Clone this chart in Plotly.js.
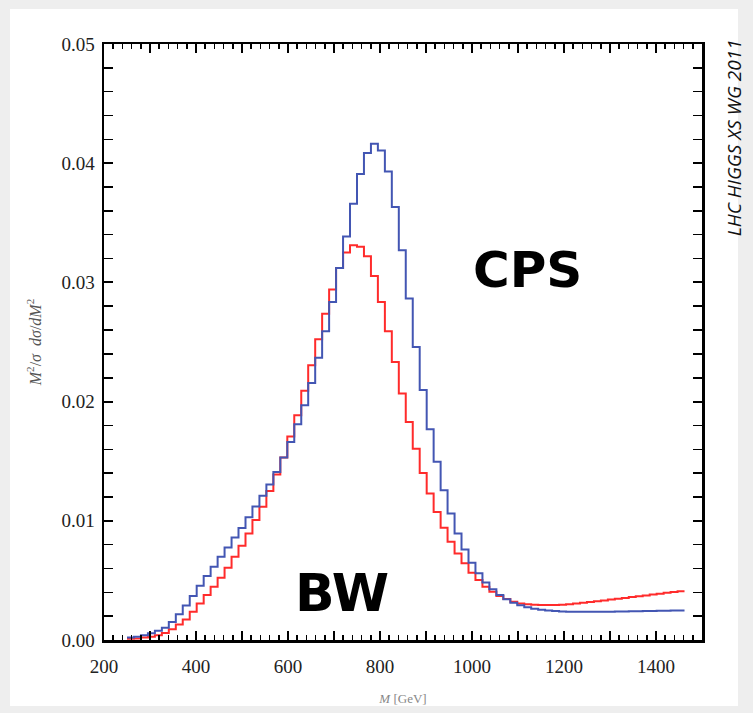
<!DOCTYPE html>
<html>
<head>
<meta charset="utf-8">
<script src="https://cdn.plot.ly/plotly-3.0.1.min.js"></script>
<style>
  html, body { margin:0; padding:0; background:#eeeeee; }
  #panel { position:absolute; left:10px; top:9px; width:728px; height:697px; background:#ffffff; }
  #chart { position:absolute; left:0; top:0; width:753px; height:713px; }
</style>
</head>
<body>
<div id="panel"></div>
<div id="chart"></div>
<script>
// Bin edges in M [GeV] (80 bins)
const binEdges = [250.0, 265.2, 280.3, 295.5, 310.6, 325.8, 340.9, 356.1, 371.2, 386.4,
  401.5, 416.7, 431.8, 447.0, 462.1, 477.3, 492.4, 507.6, 522.7, 537.9,
  553.0, 568.2, 583.3, 598.5, 613.6, 628.8, 643.9, 659.1, 674.2, 689.4,
  704.5, 719.7, 734.8, 750.0, 765.1, 780.3, 795.4, 810.6, 825.7, 840.9,
  856.0, 871.2, 886.3, 901.5, 916.6, 931.8, 946.9, 962.1, 977.2, 992.4,
  1007.5, 1022.7, 1037.8, 1053.0, 1068.1, 1083.3, 1098.4, 1113.6, 1128.7, 1143.9,
  1159.0, 1174.2, 1189.3, 1204.5, 1219.6, 1234.8, 1249.9, 1265.1, 1280.2, 1295.4,
  1310.5, 1325.7, 1340.8, 1356.0, 1371.1, 1386.3, 1401.4, 1416.6, 1431.7, 1446.9,
  1462.0];

// CPS (blue) bin contents
const cpsValues = [0.0002, 0.00028, 0.0004, 0.00056, 0.00078, 0.00103, 0.0015, 0.00215, 0.0029, 0.0037,
  0.00455, 0.00536, 0.00615, 0.00698, 0.00777, 0.0086, 0.0094, 0.0103, 0.0112, 0.0121,
  0.01305, 0.0141, 0.0153, 0.01662, 0.0181, 0.0197, 0.02157, 0.02367, 0.0259, 0.02836,
  0.0312, 0.03386, 0.0366, 0.03909, 0.04085, 0.04163, 0.04107, 0.03931, 0.03632, 0.03269,
  0.02864, 0.02459, 0.02098, 0.01769, 0.01495, 0.01257, 0.01062, 0.00894, 0.0076, 0.00648,
  0.00559, 0.00483, 0.00425, 0.00377, 0.00341, 0.00313, 0.00291, 0.00274, 0.00262, 0.00254,
  0.00247, 0.00243, 0.0024, 0.00238, 0.00237, 0.00236, 0.00236, 0.00236, 0.00237, 0.00238,
  0.00239, 0.0024, 0.00241, 0.00242, 0.00243, 0.00244, 0.00245, 0.00246, 0.00247, 0.00248];

// BW (red) bin contents
const bwValues = [0.0001, 0.00013, 0.0002, 0.00028, 0.0004, 0.00058, 0.0009, 0.0013, 0.00173, 0.00237,
  0.00307, 0.00377, 0.00447, 0.00522, 0.00606, 0.00698, 0.0079, 0.00894, 0.01006, 0.01117,
  0.01249, 0.01389, 0.01531, 0.01708, 0.01886, 0.0209, 0.02305, 0.02523, 0.02738, 0.0294,
  0.0312, 0.0325, 0.03311, 0.033, 0.0322, 0.03054, 0.02836, 0.0259, 0.02333, 0.02068,
  0.01828, 0.01604, 0.01402, 0.0123, 0.01073, 0.00941, 0.00824, 0.00726, 0.00643, 0.00564,
  0.00503, 0.00447, 0.00405, 0.00369, 0.00344, 0.00321, 0.00307, 0.00299, 0.00295, 0.00293,
  0.00293, 0.00293, 0.00296, 0.003, 0.00306, 0.00312, 0.00318, 0.00325, 0.00332, 0.00339,
  0.00346, 0.00353, 0.0036, 0.00366, 0.00374, 0.00381, 0.00389, 0.00396, 0.00403, 0.0041];

const xLabelVals = [200, 400, 600, 800, 1000, 1200, 1400];
const xLabelText = ['200', '400', '600', '800', '1000', '1200', '1400'];
const xUnlabeledVals = [300, 500, 700, 900, 1100, 1300, 1500];
const yTickVals = [0, 0.01, 0.02, 0.03, 0.04, 0.05];
const yTickText = ['0.00', '0.01', '0.02', '0.03', '0.04', '0.05'];

function stepY(vals) { return vals.concat([vals[vals.length - 1]]); }

const traces = [
  { x: binEdges, y: stepY(bwValues), type: 'scatter', mode: 'lines',
    line: { shape: 'hv', color: '#ff2b2b', width: 2 }, name: 'BW', hoverinfo: 'skip' },
  { x: binEdges, y: stepY(cpsValues), type: 'scatter', mode: 'lines',
    line: { shape: 'hv', color: '#4356b3', width: 2 }, name: 'CPS', hoverinfo: 'skip' },
  { x: [], y: [], type: 'scatter', mode: 'lines', xaxis: 'x2', yaxis: 'y', hoverinfo: 'skip', showlegend: false }
];

const tickFont = { family: 'Liberation Serif', size: 19, color: '#222' };

const layout = {
  width: 753, height: 713,
  margin: { l: 104, r: 51, t: 44, b: 73, pad: 0 },
  paper_bgcolor: 'rgba(0,0,0,0)',
  plot_bgcolor: '#ffffff',
  showlegend: false,
  xaxis: {
    range: [200, 1500], tickmode: 'array', tickvals: xLabelVals, ticktext: xLabelText,
    ticks: 'inside', ticklen: 9, tickwidth: 2, tickcolor: '#000', ticklabelstandoff: 8,
    showline: true, linecolor: '#000', linewidth: 2.5, mirror: 'allticks',
    showgrid: false, zeroline: false, tickfont: tickFont,
    minor: { tickmode: 'linear', tick0: 200, dtick: 20, ticks: 'inside', ticklen: 5, tickwidth: 1.5, tickcolor: '#000', showgrid: false },
    title: { text: '<i>M</i> [GeV]', font: { family: 'Liberation Serif', size: 13, color: '#888' }, standoff: 18 }
  },
  xaxis2: {
    overlaying: 'x', anchor: 'y', side: 'bottom', matches: 'x', range: [200, 1500],
    tickmode: 'array', tickvals: xUnlabeledVals, showticklabels: false,
    ticks: 'inside', ticklen: 9, tickwidth: 2, tickcolor: '#000',
    showline: true, linecolor: '#000', linewidth: 2.5, mirror: 'allticks',
    showgrid: false, zeroline: false
  },
  yaxis: {
    range: [0, 0.05], tickmode: 'array', tickvals: yTickVals, ticktext: yTickText,
    ticks: 'inside', ticklen: 9, tickwidth: 2, tickcolor: '#000', ticklabelstandoff: 3,
    showline: true, linecolor: '#000', linewidth: 2.5, mirror: 'allticks',
    showgrid: false, zeroline: false, tickfont: tickFont,
    minor: { tickmode: 'linear', tick0: 0, dtick: 0.002, ticks: 'inside', ticklen: 5, tickwidth: 1.5, tickcolor: '#000', showgrid: false },
    title: { text: '<i>M</i><sup>2</sup>/<i>σ</i>  <i>dσ</i>/<i>dM</i><sup>2</sup>', font: { family: 'Liberation Serif', size: 16, color: '#555' }, standoff: 16 }
  },
  annotations: [
    { text: 'CPS', xref: 'paper', yref: 'paper', x: 0.709, y: 0.62, xanchor: 'center', yanchor: 'middle',
      showarrow: false, font: { family: 'DejaVu Sans', size: 50, color: '#000', weight: 'bold' } },
    { text: 'BW', xref: 'paper', yref: 'paper', x: 0.398, y: 0.079, xanchor: 'center', yanchor: 'middle',
      showarrow: false, font: { family: 'DejaVu Sans', size: 52, color: '#000', weight: 'bold' } },
    { text: '<i>LHC HIGGS XS WG 2011</i>', xref: 'paper', yref: 'paper', x: 1.053, y: 0.843,
      xanchor: 'center', yanchor: 'middle', showarrow: false, textangle: -90,
      font: { family: 'Open Sans', size: 19, color: '#111' } }
  ]
};

Plotly.newPlot('chart', traces, layout, { staticPlot: true, displayModeBar: false });
</script>
</body>
</html>
